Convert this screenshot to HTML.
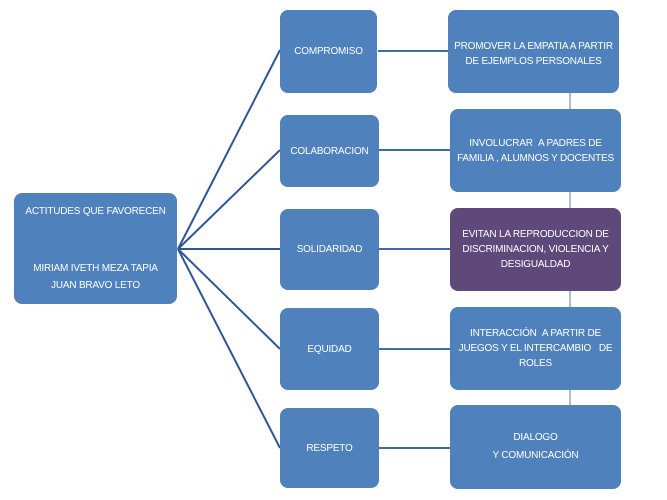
<!DOCTYPE html>
<html><head><style>
body{margin:0;width:667px;height:500px;background:#fff;overflow:hidden;position:relative;font-family:"Liberation Sans",sans-serif}
.b{position:absolute;background:#4f81bd;border-radius:8px;color:#fff;font-size:10px;letter-spacing:-0.2px;white-space:nowrap;display:flex;align-items:center;justify-content:center;text-align:center;line-height:15px}
svg{position:absolute;left:0;top:0}
</style></head><body>
<svg width="667" height="500">
<g stroke="#a9c0e0" stroke-width="2"><line x1="570" y1="93" x2="570" y2="405"/></g>
<g stroke="#2f5597" stroke-width="2">
<line x1="178" y1="249" x2="280" y2="50"/>
<line x1="178" y1="249" x2="280" y2="150"/>
<line x1="178" y1="249" x2="280" y2="249"/>
<line x1="178" y1="249" x2="280" y2="349"/>
<line x1="178" y1="249" x2="280" y2="448"/>
</g>
<g stroke="#3d6cab" stroke-width="2">
<line x1="378" y1="51" x2="448" y2="51"/>
<line x1="379" y1="150" x2="450" y2="150"/>
<line x1="379" y1="249" x2="450" y2="249"/>
<line x1="379" y1="349" x2="450" y2="349"/>
<line x1="379" y1="448" x2="450" y2="448"/>
</g>
</svg>
<div class="b" style="left:14px;top:193px;width:163px;height:111px;display:block;box-sizing:border-box"><div style="position:absolute;left:0;right:0;top:11px">ACTITUDES QUE FAVORECEN</div><div style="position:absolute;left:0;right:0;top:67px;line-height:17px">MIRIAM IVETH MEZA TAPIA<br>JUAN BRAVO LETO</div></div>
<div class="b" style="left:280px;top:10px;width:97px;height:83px">COMPROMISO</div>
<div class="b" style="left:280px;top:115px;width:99px;height:72px">COLABORACION</div>
<div class="b" style="left:280px;top:209px;width:99px;height:81px">SOLIDARIDAD</div>
<div class="b" style="left:280px;top:308px;width:99px;height:82px">EQUIDAD</div>
<div class="b" style="left:280px;top:408px;width:99px;height:80px">RESPETO</div>
<div class="b" style="left:448px;top:10px;width:171px;height:83px;align-items:flex-start;padding-top:29px;box-sizing:border-box">PROMOVER LA EMPATIA A PARTIR<br>DE EJEMPLOS PERSONALES</div>
<div class="b" style="left:450px;top:109px;width:171px;height:83px">INVOLUCRAR &nbsp;A PADRES DE<br>FAMILIA , ALUMNOS Y DOCENTES</div>
<div class="b" style="left:450px;top:208px;width:171px;height:83px;background:#5f497a">EVITAN LA REPRODUCCION DE<br>DISCRIMINACION, VIOLENCIA Y<br>DESIGUALDAD</div>
<div class="b" style="left:450px;top:307px;width:171px;height:83px">INTERACCIÓN &nbsp;A PARTIR DE<br>JUEGOS Y EL INTERCAMBIO &nbsp;&nbsp;DE<br>ROLES</div>
<div class="b" style="left:450px;top:405px;width:171px;height:84px;line-height:18px">DIALOGO<br>Y COMUNICACIÓN</div>
</body></html>
